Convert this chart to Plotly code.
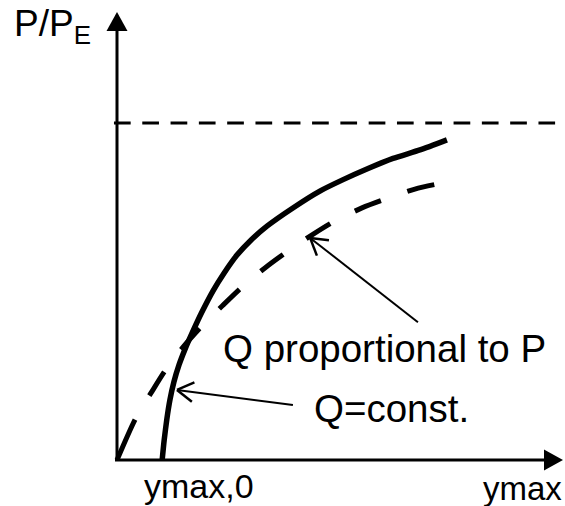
import numpy as np
import plotly.graph_objects as go

# Q = const. : P/P_E versus y_max
ymax_const = [0.134, 0.140, 0.148, 0.157, 0.169, 0.184, 0.202, 0.223, 0.252,
              0.285, 0.318, 0.356, 0.398, 0.445, 0.522, 0.602, 0.671, 0.745,
              0.819, 0.899, 0.979]
p_const = [0.0, 0.059, 0.122, 0.178, 0.232, 0.282, 0.329, 0.377, 0.439,
           0.502, 0.555, 0.608, 0.653, 0.694, 0.748, 0.798, 0.832, 0.865,
           0.895, 0.920, 0.950]

# Q proportional to P : P/P_E versus y_max
ymax_prop = [0.0, 0.056, 0.101, 0.148, 0.196, 0.255, 0.312, 0.374, 0.439,
             0.507, 0.579, 0.641, 0.727, 0.804, 0.884, 0.950]
p_prop = [0.0, 0.125, 0.199, 0.273, 0.335, 0.401, 0.457, 0.516, 0.570,
          0.620, 0.668, 0.706, 0.748, 0.777, 0.804, 0.819]

# asymptote P = P_E
p_limit = 1.0

# label texts
label_y = "P/P<sub>E</sub>"
label_x = "ymax"
label_x0 = "ymax,0"
label_prop = "Q proportional to P"
label_const = "Q=const."

# pointer targets on the curves and where the pointers start
ptr_prop = dict(tip=(0.573, 0.659), tail=(0.893, 0.409))
ptr_const = dict(tip=(0.178, 0.208), tail=(0.522, 0.163))

W, H = 565, 506
PX = 337.0  # pixels per data unit (same on both axes)
x_range = [-117 / PX, (W - 117) / PX]
y_range = [-(H - 460) / PX, 460 / PX]

FONT = "Liberation Sans, Arial, sans-serif"
BLACK = "#000000"

fig = go.Figure()

# horizontal dashed asymptote
fig.add_trace(go.Scatter(
    x=[-0.009, 1.300], y=[p_limit, p_limit], mode="lines",
    line=dict(color=BLACK, width=3, dash="16.7px,11.6px"),
    hoverinfo="skip", showlegend=False))

# Q proportional to P (dashed curve)
dash_prop = ",".join(["44px", "28px"] + ["28px", "28px"] * 14)
fig.add_trace(go.Scatter(
    x=ymax_prop, y=p_prop, mode="lines",
    line=dict(color=BLACK, width=5, dash=dash_prop, shape="spline", smoothing=0.8),
    hoverinfo="skip", showlegend=False))

# Q = const. (solid curve)
fig.add_trace(go.Scatter(
    x=ymax_const, y=p_const, mode="lines",
    line=dict(color=BLACK, width=5.5, shape="spline", smoothing=0.6),
    hoverinfo="skip", showlegend=False))

shapes = []

# axes with arrow heads
x_tip, y_tip = (563 - 117) / PX, (460 - 12) / PX
head_len, head_half = 19 / PX, 10.5 / PX
shapes.append(dict(type="line", xref="x", yref="y", x0=0, y0=0, x1=0, y1=y_tip - head_len,
                   line=dict(color=BLACK, width=3)))
shapes.append(dict(type="line", xref="x", yref="y", x0=-2 / PX, y0=0, x1=x_tip - head_len, y1=0,
                   line=dict(color=BLACK, width=3)))
shapes.append(dict(type="path", xref="x", yref="y",
                   path=f"M{-head_half},{y_tip - head_len} L{head_half},{y_tip - head_len} L0,{y_tip} Z",
                   fillcolor=BLACK, line=dict(color=BLACK, width=0)))
shapes.append(dict(type="path", xref="x", yref="y",
                   path=f"M{x_tip - head_len},{-head_half} L{x_tip - head_len},{head_half} L{x_tip},0 Z",
                   fillcolor=BLACK, line=dict(color=BLACK, width=0)))


def pointer(tip, tail, arm_len=19 / PX, half_angle=np.radians(31)):
    """Thin line from tail to tip with an open V head at the tip."""
    tx, ty = tip
    sx, sy = tail
    ang = np.arctan2(sy - ty, sx - tx)
    out = [dict(type="line", xref="x", yref="y", x0=sx, y0=sy, x1=tx, y1=ty,
                line=dict(color=BLACK, width=2))]
    for s in (-1, 1):
        a = ang + s * half_angle
        out.append(dict(type="line", xref="x", yref="y", x0=tx, y0=ty,
                        x1=tx + arm_len * np.cos(a), y1=ty + arm_len * np.sin(a),
                        line=dict(color=BLACK, width=2.5)))
    return out


shapes += pointer(**ptr_prop)
shapes += pointer(**ptr_const)

annotations = [
    dict(text=label_y, x=-0.312, y=1.288, xanchor="left", yanchor="middle",
         font=dict(size=37)),
    dict(text=label_prop, x=0.310, y=0.332, xanchor="left", yanchor="middle",
         font=dict(size=38.5)),
    dict(text=label_const, x=0.580, y=0.153, xanchor="left", yanchor="middle",
         font=dict(size=38.5)),
    dict(text=label_x0, x=0.074, y=-0.077, xanchor="left", yanchor="middle",
         font=dict(size=34)),
    dict(text=label_x, x=1.080, y=-0.086, xanchor="left", yanchor="middle",
         font=dict(size=33)),
]
for a in annotations:
    a.update(xref="x", yref="y", showarrow=False)
    a["font"].update(family=FONT, color=BLACK)

fig.update_layout(
    width=W, height=H,
    margin=dict(l=0, r=0, t=0, b=0),
    paper_bgcolor="white", plot_bgcolor="white",
    xaxis=dict(range=x_range, visible=False, fixedrange=True),
    yaxis=dict(range=y_range, visible=False, fixedrange=True),
    shapes=shapes, annotations=annotations,
    showlegend=False,
)

fig.write_html("out.html")
